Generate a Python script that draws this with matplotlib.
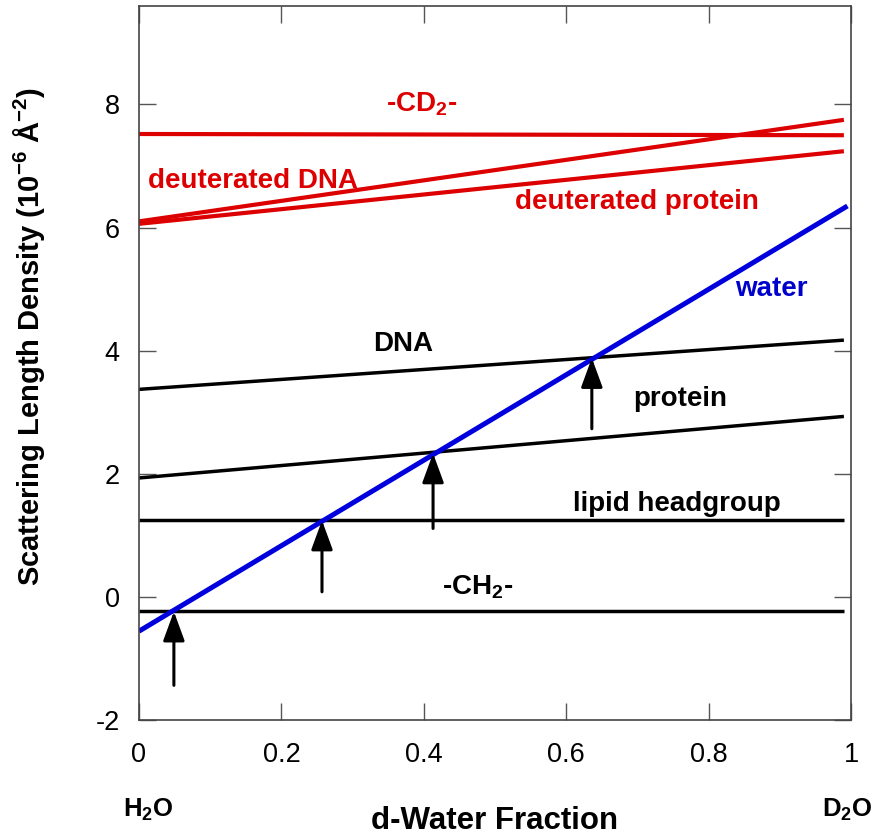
import matplotlib
matplotlib.use("Agg")
import matplotlib.pyplot as plt
from matplotlib.ticker import FuncFormatter

plt.rcParams['font.family'] = ['Liberation Sans', 'DejaVu Sans']
plt.rcParams['mathtext.default'] = 'regular'
plt.rcParams['axes.unicode_minus'] = False

# ---- data ----
x_ends = [0.0, 0.99]
cd2 = [7.52, 7.50]
d_dna = [6.10, 7.75]
d_protein = [6.06, 7.24]
dna = [3.37, 4.17]
protein = [1.93, 2.93]
lipid_headgroup = [1.24, 1.24]
ch2 = [-0.24, -0.24]
water_x = [0.0, 0.995]
water = [-0.56, 6.35]

arrow_x = [0.049, 0.257, 0.413, 0.636]
arrow_tail = [-1.44, 0.08, 1.11, 2.73]
arrow_tip = [-0.24, 1.24, 2.33, 3.88]

x_ticks = [0, 0.2, 0.4, 0.6, 0.8, 1.0]
y_ticks = [-2, 0, 2, 4, 6, 8]

RED = '#DD0000'
BLUE = '#0000DD'

fig = plt.figure(figsize=(8.74, 8.38), dpi=100)
ax = fig.add_axes([139/874, 1 - 719.8/838, 712/874, (719.8 - 6)/838])

for ys in (cd2, d_dna, d_protein):
    ax.plot(x_ends, ys, color=RED, lw=3.0, solid_capstyle='butt')
for ys in (dna, protein, lipid_headgroup, ch2):
    ax.plot(x_ends, ys, color='black', lw=2.5, solid_capstyle='butt')
ax.plot(water_x, water, color=BLUE, lw=3.6, solid_capstyle='butt')

for xa, yt, yh in zip(arrow_x, arrow_tail, arrow_tip):
    ax.annotate('', xy=(xa, yh), xytext=(xa, yt),
                arrowprops=dict(arrowstyle='-|>,head_length=0.9,head_width=0.33',
                                lw=2.2, color='black', mutation_scale=20,
                                shrinkA=0, shrinkB=0))

tk = dict(fontsize=20, fontweight='bold', va='baseline')
ax.text(0.0126, 6.65, 'deuterated DNA', color=RED, ha='left', **tk)
ax.text(0.347, 7.88, '-CD$_2$-', color=RED, ha='left', **tk)
ax.text(0.871, 6.30, 'deuterated protein', color=RED, ha='right', **tk)
ax.text(0.837, 4.88, 'water', color='#0000CC', ha='left', **tk)
ax.text(0.329, 3.99, 'DNA', color='black', ha='left', **tk)
ax.text(0.694, 3.10, 'protein', color='black', ha='left', **tk)
ax.text(0.610, 1.40, 'lipid headgroup', color='black', ha='left', **tk)
ax.text(0.426, 0.03, '-CH$_2$-', color='black', ha='left', **tk)

ax.set_xlim(0, 1.0)
ax.set_ylim(-2, 9.6)
ax.set_xticks(x_ticks)
ax.set_yticks(y_ticks)
ax.xaxis.set_major_formatter(FuncFormatter(lambda v, p: ('%g' % v)))
ax.yaxis.set_major_formatter(FuncFormatter(lambda v, p: ('%g' % v)))
ax.tick_params(direction='in', length=12, width=1.0, color='#555555',
               labelsize=19.5, top=True, right=True)
ax.tick_params(axis='x', pad=16)
ax.tick_params(axis='y', pad=14)
for s in ax.spines.values():
    s.set_color('#444444')
    s.set_linewidth(1.2)

ax.text(-0.1545, 0.537, 'Scattering Length Density (10$^{-6}$ Å$^{-2}$)',
        rotation=90, ha='center', va='center', transform=ax.transAxes,
        fontweight='bold', fontsize=21)
fig.text(495/874, 9/838, 'd-Water Fraction', ha='center', va='baseline',
         fontweight='bold', fontsize=22.5)

fig.text(123/874, 1 - 816.7/838, 'H$_2$O', ha='left', va='baseline', fontsize=18.5, fontweight='bold')
fig.text(822/874, 1 - 816.7/838, 'D$_2$O', ha='left', va='baseline', fontsize=18.5, fontweight='bold')

fig.savefig('out.png', dpi=100)
